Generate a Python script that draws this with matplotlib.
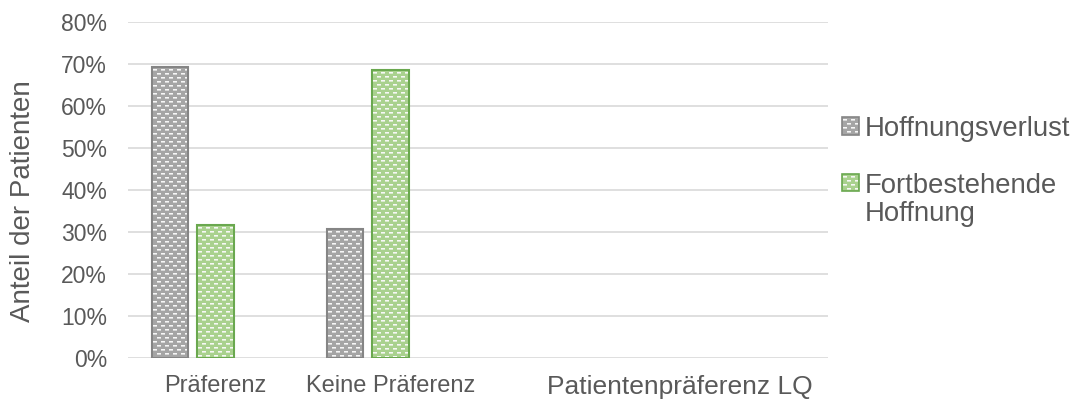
import numpy as np
import matplotlib
matplotlib.use("Agg")
import matplotlib.pyplot as plt
from matplotlib.patches import Rectangle
from matplotlib.colors import to_rgb

# ---- data -------------------------------------------------------------
categories = ["Präferenz", "Keine Präferenz", "", ""]
series_names = ["Hoffnungsverlust", "Fortbestehende\nHoffnung"]
hoffnungsverlust = [69.2, 30.8]          # % of patients
fortbestehende_hoffnung = [31.6, 68.5]   # % of patients
y_ticks = [0, 10, 20, 30, 40, 50, 60, 70, 80]
x_title = "Patientenpräferenz LQ"
y_title = "Anteil der Patienten"

# ---- style ------------------------------------------------------------
W, H, DPI = 1077, 401, 100
TEXT = "#595959"
GRID = "#d9d9d9"
GREY_FACE, GREY_EDGE = "#a5a5a5", "#858585"
GREEN_FACE, GREEN_EDGE = "#a9d18e", "#6aa84f"
plt.rcParams["font.family"] = ["Liberation Sans", "DejaVu Sans"]


def px(xp, yp):
    """Pixel position (from the top-left corner) to figure fraction."""
    return xp / W, 1 - yp / H


fig = plt.figure(figsize=(W / DPI, H / DPI), dpi=DPI)
ax = fig.add_axes([128 / W, 43 / H, 700 / W, 336 / H])

x = np.arange(len(hoffnungsverlust))
bw = 0.209
step = 0.259
bars_grey = ax.bar(x - step, hoffnungsverlust, width=bw, color=GREY_FACE,
                   edgecolor=GREY_EDGE, linewidth=1.5, zorder=3)
bars_green = ax.bar(x, fortbestehende_hoffnung, width=bw, color=GREEN_FACE,
                    edgecolor=GREEN_EDGE, linewidth=1.5, zorder=3)

ax.set_xlim(-0.5, len(categories) - 0.5)
ax.set_ylim(0, 80)
ax.set_yticks(y_ticks)
ax.set_yticklabels([f"{v}%" for v in y_ticks])
ax.set_xticks(x)
ax.set_xticklabels(categories[:len(x)])
ax.yaxis.grid(True, color=GRID, linewidth=1.2, zorder=0)
ax.set_axisbelow(True)
for s in ax.spines.values():
    s.set_visible(False)
ax.tick_params(axis="both", length=0, colors=TEXT)
ax.tick_params(axis="y", pad=15, labelsize=16.5)
ax.tick_params(axis="x", pad=12, labelsize=17)

fig.text(*px(680, 394), x_title, ha="center", va="baseline",
         color=TEXT, fontsize=19)
fig.text(*px(23, 201), y_title, ha="center", va="center",
         rotation=90, color=TEXT, fontsize=20)

# ---- legend (drawn by hand) ---------------------------------------------
legend_items = [(GREY_FACE, GREY_EDGE, series_names[0], 126),
                (GREEN_FACE, GREEN_EDGE, series_names[1], 183)]
legend_boxes = []
for face, edge, label, yc in legend_items:
    r = Rectangle(px(842, yc + 8.5), 17 / W, 17 / H,
                  transform=fig.transFigure, facecolor=face,
                  edgecolor=edge, linewidth=1.2)
    fig.add_artist(r)
    legend_boxes.append((r, face))
    for i, line in enumerate(label.split("\n")):
        fig.text(*px(865, yc + 10 + 28 * i), line, ha="left",
                 va="baseline", color=TEXT, fontsize=19.8)


# ---- dashed-brick fill texture -----------------------------------------
def texture(w, h, base):
    base = np.array(to_rgb(base))
    arr = np.empty((h, w, 3))
    arr[:] = base
    yy, xx = np.mgrid[0:h, 0:w]
    shift = 4 * ((yy // 4) % 2)
    on = ((xx + shift) % 8) < 4
    r = yy % 4
    white = np.ones(3)
    arr[on & (r == 1)] = white * 0.97
    arr[on & (r == 2)] = 0.45 * base + 0.55 * white
    return arr


def overlay(patch, face):
    bb = patch.get_window_extent()
    x0, y0 = int(round(bb.x0)) + 1, int(round(bb.y0)) + 1
    x1, y1 = int(round(bb.x1)) - 1, int(round(bb.y1)) - 1
    if x1 > x0 and y1 > y0:
        fig.figimage(texture(x1 - x0, y1 - y0, face), xo=x0, yo=y0,
                     origin="upper", zorder=5)


fig.canvas.draw()
for patches, face in ((bars_grey, GREY_FACE), (bars_green, GREEN_FACE)):
    for p in patches:
        overlay(p, face)
for r, face in legend_boxes:
    overlay(r, face)

fig.savefig("out.png", dpi=DPI)
